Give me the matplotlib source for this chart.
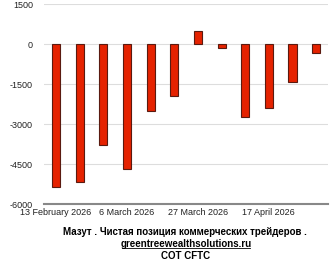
import matplotlib
matplotlib.use("Agg")
import matplotlib.pyplot as plt

# weekly COT reports, net position of commercial traders
dates = ["13 February 2026", "20 February 2026", "27 February 2026", "6 March 2026",
         "13 March 2026", "20 March 2026", "27 March 2026", "3 April 2026",
         "10 April 2026", "17 April 2026", "24 April 2026", "1 May 2026"]
net_pos = [-5350, -5160, -3800, -4700, -2500, -1960, 510, -150, -2750, -2380, -1420, -330]
yticks = [-6000, -4500, -3000, -1500, 0, 1500]

plt.rcParams['font.family'] = ['Liberation Sans', 'DejaVu Sans']

fig = plt.figure(figsize=(3.34, 2.74), dpi=100)
ax = fig.add_axes([0.132, 0.255, 0.85, 0.73])

x = range(len(net_pos))
ax.bar(x, net_pos, width=0.34, color='#e52200', edgecolor='#5a1a10', linewidth=0.8, zorder=3)

ax.set_xlim(-0.5, len(net_pos) - 0.5)
ax.set_ylim(-6000, 1500)
ax.set_yticks(yticks)
ax.set_yticklabels([str(v) for v in yticks])
ax.set_xticks([0, 3, 6, 9])
ax.set_xticklabels([dates[i] for i in [0, 3, 6, 9]])
ax.tick_params(axis='both', length=0, labelsize=6.5, colors='#222222')
ax.tick_params(axis='x', pad=3)
ax.tick_params(axis='y', pad=8)

ax.grid(axis='y', color='#dddddd', linewidth=0.8, zorder=0)
for s in ['top', 'right', 'left']:
    ax.spines[s].set_visible(False)
ax.spines['bottom'].set_color('#888888')
ax.spines['bottom'].set_linewidth(1.5)

fig.text(0.555, 0.154, "Мазут . Чистая позиция коммерческих трейдеров .",
         ha='center', va='center', fontsize=7, fontweight='bold')
fig.text(0.557, 0.111, "greentreewealthsolutions.ru",
         ha='center', va='center', fontsize=7, fontweight='bold')
fig.add_artist(plt.Line2D([0.366, 0.748], [0.094, 0.094], color='black', linewidth=0.6))
fig.text(0.557, 0.065, "COT CFTC",
         ha='center', va='center', fontsize=7, fontweight='bold')

fig.savefig("out.png", dpi=100)
